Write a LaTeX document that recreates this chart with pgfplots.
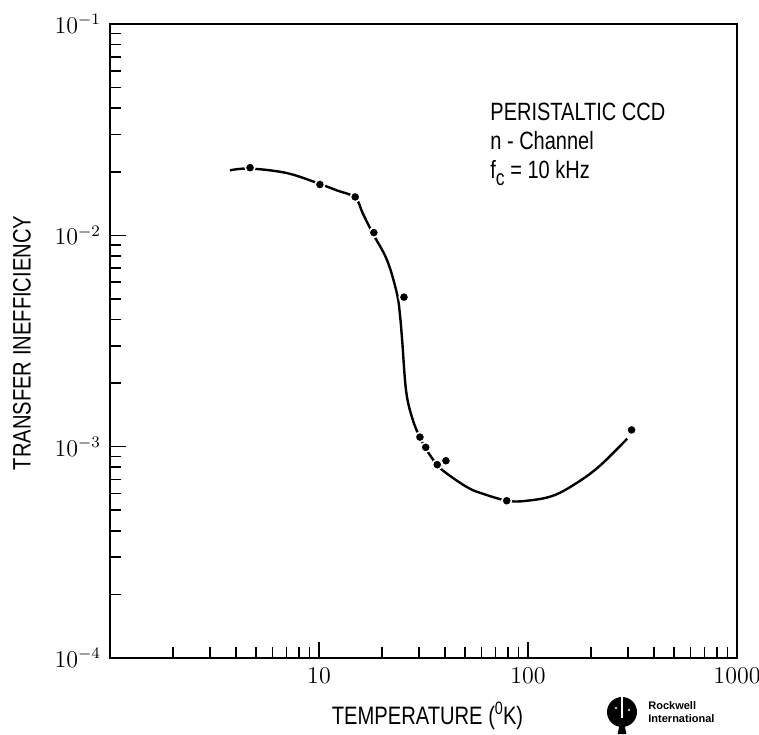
\documentclass[border=0pt]{standalone}
\usepackage{pgfplots}
\pgfplotsset{compat=1.18}
\usepackage{fontspec}
\newfontfamily\cond[FakeStretch=0.8]{Liberation Sans}
\newfontfamily\logofont{Liberation Sans}
\begin{document}
\begin{tikzpicture}
\begin{axis}[
  scale only axis,
  width=313.5pt, height=317pt,
  xmode=log, ymode=log,
  xmin=1, xmax=1000, ymin=1e-4, ymax=1e-1,
  xtick={1,10,100,1000}, xticklabels={,10,100,1000},
  ytick={1e-4,1e-3,1e-2,1e-1},
  xtick pos=left, ytick pos=left,
  tick align=inside,
  major tick length=8pt, minor tick length=5.5pt,
  every tick/.style={black, line width=0.8pt},
  axis line style={line width=1pt},
  tick label style={font=\fontsize{12}{14}\selectfont},
  yticklabel style={xshift=-1pt},
  xticklabel style={yshift=-1pt},
  clip=false,
]
% curve
\addplot[black, line width=1.2pt, smooth, tension=0.6] coordinates {
(3.75,0.0203) (4.68,0.0207) (7.03,0.0197) (10.1,0.0175) (12.2,0.0163)
(14.9,0.0151) (16.2,0.0127) (18.1,0.0102) (21.2,0.0076) (23.6,0.0053)
(24.4,0.0042) (25.0,0.00318) (26.1,0.00184) (27.9,0.00137) (30.4,0.00110)
(32.2,0.00099) (36.7,0.00082) (41.0,0.000745) (47.3,0.000675) (52.8,0.000632)
(58.9,0.000605) (79.3,0.000555) (98.9,0.000555) (131.7,0.000586)
(171.6,0.000675) (221,0.000813) (298,0.00109)
};
% measured points
\addplot[only marks, mark=*, mark size=2.4pt,
  mark options={fill=black, draw=white, line width=0.8pt}] coordinates {
(4.68,0.0209) (10.1,0.0174) (14.9,0.0152) (18.3,0.0103) (25.5,0.0051)
(30.4,0.00111) (32.4,0.000993) (36.8,0.000822) (40.5,0.000858)
(79.1,0.000555) (313,0.00120)
};
\node[anchor=north west, inner sep=0pt, align=left,
  font=\cond\fontsize{12.5}{14.5}\selectfont] at (axis cs:65.8,0.0423)
  {PERISTALTIC CCD\\ n - Channel\\ f\raisebox{-3.5pt}{\fontsize{11}{11}\selectfont c} = 10 kHz};
\end{axis}
% axis labels
\node[rotate=90, font=\cond\fontsize{12.6}{14}\selectfont]
  at ([xshift=-44pt,yshift=-1pt]current axis.west) {TRANSFER INEFFICIENCY};
\node[font=\cond\fontsize{12.6}{14}\selectfont]
  at ([xshift=2pt,yshift=-29pt]current axis.south)
  {TEMPERATURE (\raisebox{5pt}{\fontsize{9}{9}\selectfont 0}K)};
% Rockwell International logo
\begin{scope}[shift={([xshift=-57.5pt,yshift=-27pt]current axis.south east)}]
  \fill[black] (0,0) circle (7.5pt);
  \fill[white] (-0.7pt,-8pt) rectangle (0.7pt,8pt);
  \fill[black] (-0.5pt,-3pt) -- (0.5pt,-3pt) -- (2.2pt,-11pt) -- (-2.2pt,-11pt) -- cycle;
  \fill[white] (-3pt,2pt) circle (0.6pt);
  \fill[white] (3.5pt,1pt) circle (0.6pt);
\end{scope}
\node[anchor=west, inner sep=0pt, align=left,
  font=\logofont\bfseries\fontsize{5.5}{6.2}\selectfont]
  at ([xshift=-44.5pt,yshift=-27pt]current axis.south east)
  {Rockwell\\International};
\pgfresetboundingbox
\useasboundingbox ([xshift=-55pt,yshift=-38pt]current axis.south west)
  rectangle ([xshift=11pt,yshift=12pt]current axis.north east);
\end{tikzpicture}
\end{document}
